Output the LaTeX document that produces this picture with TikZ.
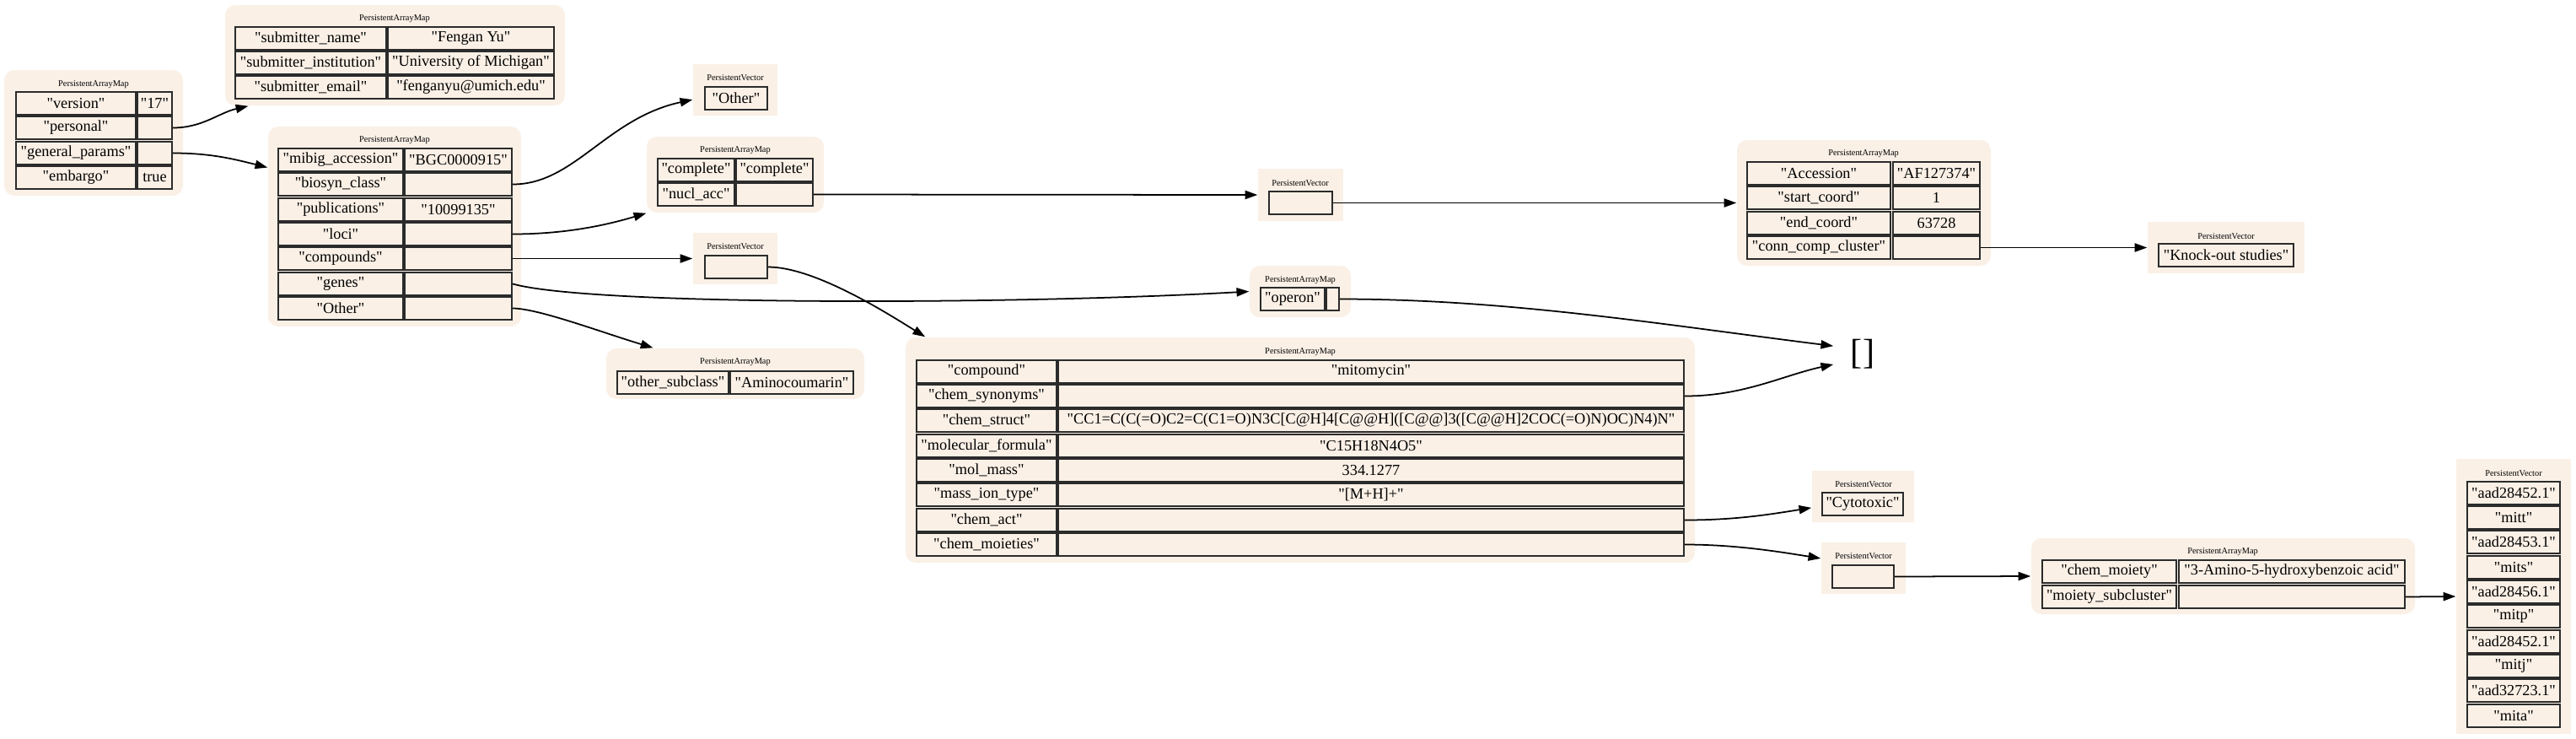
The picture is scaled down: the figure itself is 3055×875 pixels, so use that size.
\documentclass[tikz,border=0pt]{standalone}
\usepackage{fontspec}
\newfontfamily\graphfont{Liberation Serif}
\usepackage{tikz}
\usetikzlibrary{arrows.meta}
\definecolor{linen}{HTML}{FAF0E6}
\definecolor{cellline}{HTML}{2B2B2B}
\newcommand{\cellsize}{\graphfont\fontsize{5.2pt}{6pt}\selectfont}
\newcommand{\titlesize}{\graphfont\fontsize{2.95pt}{3.5pt}\selectfont}
\newcommand{\bracketsize}{\graphfont\fontsize{12pt}{14pt}\selectfont}
\newcommand{\panel}[6]{%
  \node[#1, minimum width={(#5-#3)*0.01cm}, minimum height={(#6-#4)*0.01cm}] (#2) at ({(#3+#5)/2},{(#4+#6)/2}) {};%
}
\newcommand{\paneltitle}[4]{\node[boxtitle] (#1) at (#2,#3) {#4};}
\newcommand{\mapcell}[5]{%
  \node[cellbox, minimum width={(#3-#2)*0.01cm}] (#1) at ({(#2+#3)/2},{#4+13.5}) {#5};%
}
\tikzset{
  mapbox/.style={fill=linen, rounded corners=3.4pt, inner sep=0pt},
  vecbox/.style={fill=linen, inner sep=0pt},
  cellbox/.style={draw=cellline, fill=linen, line width=0.6pt, inner sep=0pt, minimum height=0.27cm, font=\cellsize},
  boxtitle/.style={inner sep=0pt, font=\titlesize},
  link/.style={-{Triangle[length=4.2pt,width=2.9pt]}, line width=0.5pt},
}

\begin{document}
\begin{tikzpicture}[x=0.01cm, y=-0.01cm]
    \useasboundingbox (0,0) rectangle (3055,875);

    \panel{mapbox}{top}{5}{83}{217}{232}
    \paneltitle{top-t}{111}{100}{PersistentArrayMap}
    \mapcell{top-version-k}{19}{161}{109}{"version"}
    \mapcell{top-version-v}{163}{204}{109}{"17"}
    \mapcell{top-personal-k}{19}{161}{138}{"personal"}
    \mapcell{top-personal-v}{163}{204}{138}{}
    \mapcell{top-general-k}{19}{161}{168}{"general\_params"}
    \mapcell{top-general-v}{163}{204}{168}{}
    \mapcell{top-embargo-k}{19}{161}{197}{"embargo"}
    \mapcell{top-embargo-v}{163}{204}{197}{true}

    \panel{mapbox}{personal}{267}{6}{670}{125}
    \paneltitle{personal-t}{468}{22}{PersistentArrayMap}
    \mapcell{personal-name-k}{279}{458}{32}{"submitter\_name"}
    \mapcell{personal-name-v}{460}{657}{32}{"Fengan Yu"}
    \mapcell{personal-inst-k}{279}{458}{61}{"submitter\_institution"}
    \mapcell{personal-inst-v}{460}{657}{61}{"University of Michigan"}
    \mapcell{personal-email-k}{279}{458}{90}{"submitter\_email"}
    \mapcell{personal-email-v}{460}{657}{90}{"fenganyu@umich.edu"}

    \panel{mapbox}{general}{318}{150}{618}{387}
    \paneltitle{general-t}{468}{166}{PersistentArrayMap}
    \mapcell{general-mibig-k}{330}{478}{176}{"mibig\_accession"}
    \mapcell{general-mibig-v}{480}{607}{176}{"BGC0000915"}
    \mapcell{general-biosyn-k}{330}{478}{205}{"biosyn\_class"}
    \mapcell{general-biosyn-v}{480}{607}{205}{}
    \mapcell{general-pub-k}{330}{478}{235}{"publications"}
    \mapcell{general-pub-v}{480}{607}{235}{"10099135"}
    \mapcell{general-loci-k}{330}{478}{264}{"loci"}
    \mapcell{general-loci-v}{480}{607}{264}{}
    \mapcell{general-compounds-k}{330}{478}{293}{"compounds"}
    \mapcell{general-compounds-v}{480}{607}{293}{}
    \mapcell{general-genes-k}{330}{478}{323}{"genes"}
    \mapcell{general-genes-v}{480}{607}{323}{}
    \mapcell{general-other-k}{330}{478}{352}{"Other"}
    \mapcell{general-other-v}{480}{607}{352}{}

    \panel{vecbox}{classvec}{822}{76}{922}{137}
    \paneltitle{classvec-t}{872}{92}{PersistentVector}
    \mapcell{classvec-c}{836}{910}{103}{"Other"}

    \panel{mapbox}{loci}{767}{162}{977}{252}
    \paneltitle{loci-t}{872}{178}{PersistentArrayMap}
    \mapcell{loci-complete-k}{780}{871}{188}{"complete"}
    \mapcell{loci-complete-v}{873}{964}{188}{"complete"}
    \mapcell{loci-nucl-k}{780}{871}{217}{"nucl\_acc"}
    \mapcell{loci-nucl-v}{873}{964}{217}{}

    \panel{vecbox}{compvec}{822}{276}{922}{337}
    \paneltitle{compvec-t}{872}{292}{PersistentVector}
    \mapcell{compvec-c}{836}{910}{303}{}

    \panel{mapbox}{subclass}{719}{413}{1025}{473}
    \paneltitle{subclass-t}{872}{429}{PersistentArrayMap}
    \mapcell{subclass-k}{732}{864}{440}{"other\_subclass"}
    \mapcell{subclass-v}{866}{1012}{440}{"Aminocoumarin"}

    \panel{vecbox}{accvec}{1492}{200}{1593}{262}
    \paneltitle{accvec-t}{1542}{217}{PersistentVector}
    \mapcell{accvec-c}{1505}{1580}{227}{}

    \panel{mapbox}{genes}{1482}{315}{1602}{376}
    \paneltitle{genes-t}{1542}{332}{PersistentArrayMap}
    \mapcell{genes-operon-k}{1495}{1571}{341}{"operon"}
    \mapcell{genes-operon-v}{1573}{1588}{341}{}

    \panel{mapbox}{compound}{1074}{400}{2010}{667}
    \paneltitle{compound-t}{1542}{417}{PersistentArrayMap}
    \mapcell{compound-name-k}{1087}{1253}{427}{"compound"}
    \mapcell{compound-name-v}{1255}{1997}{427}{"mitomycin"}
    \mapcell{compound-syn-k}{1087}{1253}{456}{"chem\_synonyms"}
    \mapcell{compound-syn-v}{1255}{1997}{456}{}
    \mapcell{compound-struct-k}{1087}{1253}{485}{"chem\_struct"}
    \mapcell{compound-struct-v}{1255}{1997}{485}{"CC1=C(C(=O)C2=C(C1=O)N3C[C@H]4[C@@H]([C@@]3([C@@H]2COC(=O)N)OC)N4)N"}
    \mapcell{compound-formula-k}{1087}{1253}{515}{"molecular\_formula"}
    \mapcell{compound-formula-v}{1255}{1997}{515}{"C15H18N4O5"}
    \mapcell{compound-mass-k}{1087}{1253}{544}{"mol\_mass"}
    \mapcell{compound-mass-v}{1255}{1997}{544}{334.1277}
    \mapcell{compound-ion-k}{1087}{1253}{573}{"mass\_ion\_type"}
    \mapcell{compound-ion-v}{1255}{1997}{573}{"[M+H]+"}
    \mapcell{compound-act-k}{1087}{1253}{603}{"chem\_act"}
    \mapcell{compound-act-v}{1255}{1997}{603}{}
    \mapcell{compound-moieties-k}{1087}{1253}{632}{"chem\_moieties"}
    \mapcell{compound-moieties-v}{1255}{1997}{632}{}

    \node[inner xsep=5.7pt, inner ysep=2pt, font=\bracketsize] (emptyvec) at (2209,420) {[]};

    \panel{mapbox}{locus}{2060}{166}{2361}{315}
    \paneltitle{locus-t}{2210}{182}{PersistentArrayMap}
    \mapcell{locus-acc-k}{2072}{2242}{192}{"Accession"}
    \mapcell{locus-acc-v}{2245}{2348}{192}{"AF127374"}
    \mapcell{locus-start-k}{2072}{2242}{221}{"start\_coord"}
    \mapcell{locus-start-v}{2245}{2348}{221}{1}
    \mapcell{locus-end-k}{2072}{2242}{251}{"end\_coord"}
    \mapcell{locus-end-v}{2245}{2348}{251}{63728}
    \mapcell{locus-cluster-k}{2072}{2242}{280}{"conn\_comp\_cluster"}
    \mapcell{locus-cluster-v}{2245}{2348}{280}{}

    \panel{vecbox}{clustervec}{2547}{263}{2733}{324}
    \paneltitle{clustervec-t}{2640}{280}{PersistentVector}
    \mapcell{clustervec-c}{2560}{2720}{289}{"Knock-out studies"}

    \panel{vecbox}{actvec}{2149}{558}{2270}{619}
    \paneltitle{actvec-t}{2210}{574}{PersistentVector}
    \mapcell{actvec-c}{2161}{2257}{584}{"Cytotoxic"}

    \panel{vecbox}{moietyvec}{2160}{643}{2260}{704}
    \paneltitle{moietyvec-t}{2210}{659}{PersistentVector}
    \mapcell{moietyvec-c}{2173}{2246}{670}{}

    \panel{mapbox}{moiety}{2409}{638}{2864}{728}
    \paneltitle{moiety-t}{2636}{654}{PersistentArrayMap}
    \mapcell{moiety-name-k}{2422}{2581}{664}{"chem\_moiety"}
    \mapcell{moiety-name-v}{2584}{2852}{664}{"3-Amino-5-hydroxybenzoic acid"}
    \mapcell{moiety-sub-k}{2422}{2581}{694}{"moiety\_subcluster"}
    \mapcell{moiety-sub-v}{2584}{2852}{694}{}

    \panel{vecbox}{genevec}{2913}{544}{3049}{870}
    \paneltitle{genevec-t}{2981}{561}{PersistentVector}
    \mapcell{genevec-1}{2926}{3036}{571}{"aad28452.1"}
    \mapcell{genevec-2}{2926}{3036}{600}{"mitt"}
    \mapcell{genevec-3}{2926}{3036}{629}{"aad28453.1"}
    \mapcell{genevec-4}{2926}{3036}{659}{"mits"}
    \mapcell{genevec-5}{2926}{3036}{688}{"aad28456.1"}
    \mapcell{genevec-6}{2926}{3036}{717}{"mitp"}
    \mapcell{genevec-7}{2926}{3036}{747}{"aad28452.1"}
    \mapcell{genevec-8}{2926}{3036}{776}{"mitj"}
    \mapcell{genevec-9}{2926}{3036}{805}{"aad32723.1"}
    \mapcell{genevec-10}{2926}{3036}{835}{"mita"}

    \draw[link] (top-personal-v.east) .. controls +(35,0) and +(-35,8) .. ([xshift=8pt]personal.south west);
    \draw[link] (top-general-v.east) .. controls +(45,0) and +(-40,-10) .. ([yshift=-14pt]general.north west);
    \draw[link] (general-biosyn-v.east) .. controls +(73,0) and +(-102,22) .. ([yshift=-3.3pt]classvec.west);
    \draw[link] (general-loci-v.east) .. controls +(60,0) and +(-50,15) .. (loci.south west);
    \draw[link] (general-compounds-v.east) -- (compvec.west);
    \draw[link] (general-genes-v.east) .. controls +(93,26) and +(-284,16) .. (genes.west);
    \draw[link] (general-other-v.east) .. controls +(30,0) and +(-60,-18) .. ([xshift=16pt]subclass.north west);
    \draw[link] (loci-nucl-v.east) -- (accvec.west);
    \draw[link] (compvec-c.east) .. controls +(55,0) and +(-45,-28) .. ([xshift=6.8pt]compound.north west);
    \draw[link] (accvec-c.east) -- (locus.west);
    \draw[link] (genes-operon-v.east) .. controls +(200,0) and +(-200,-25) .. ([yshift=2.8pt]emptyvec.west);
    \draw[link] (compound-syn-v.east) .. controls +(70,0) and +(-60,13) .. ([yshift=-3.4pt]emptyvec.west);
    \draw[link] (compound-act-v.east) .. controls +(60,0) and +(-50,8) .. ([yshift=-3.8pt]actvec.west);
    \draw[link] (compound-moieties-v.east) .. controls +(60,0) and +(-50,-8) .. ([yshift=3.3pt]moietyvec.west);
    \draw[link] (locus-cluster-v.east) -- (clustervec.west);
    \draw[link] (moietyvec-c.east) -- (moiety.west);
    \draw[link] (moiety-sub-v.east) -- (genevec.west);
\end{tikzpicture}
\end{document}
